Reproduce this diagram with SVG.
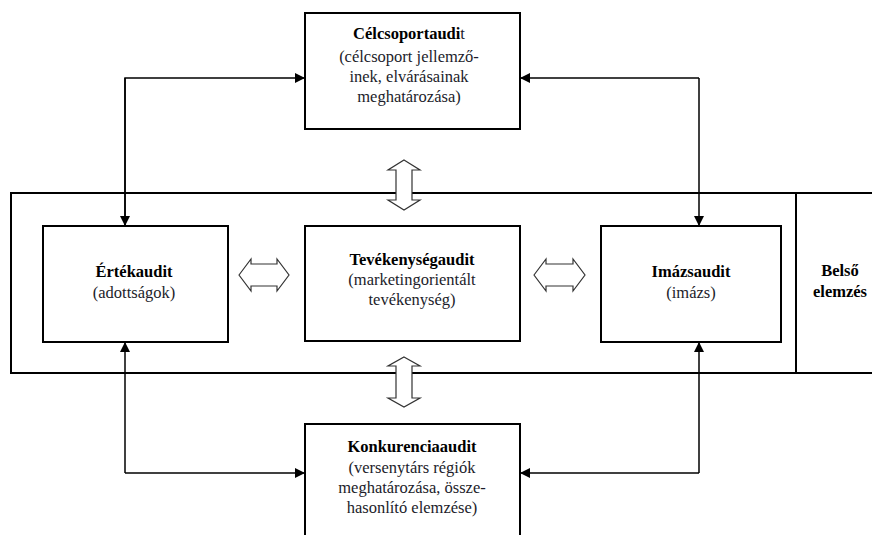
<svg xmlns="http://www.w3.org/2000/svg" width="872" height="535" viewBox="0 0 872 535">
<style>
.box{fill:#fff;stroke:#000;stroke-width:2}
.frame{fill:none;stroke:#000;stroke-width:2}
.conn{fill:none;stroke:#000;stroke-width:1.5}
.dbl{fill:#fff;stroke:#333;stroke-width:1.2}
text{font-family:"Liberation Serif","Times New Roman","DejaVu Serif",serif;font-size:16.5px;fill:#1c1c2a;text-anchor:middle}
.b{font-weight:bold;fill:#000}
</style>
<defs>
<marker id="ah" viewBox="0 0 10 10" refX="10" refY="5" markerWidth="10" markerHeight="10" markerUnits="userSpaceOnUse" orient="auto">
<path d="M0,0 L10,5 L0,10 Z" fill="#000"/>
</marker>
</defs>
<rect width="872" height="535" fill="#fff"/>
<g id="frame">
<rect class="frame" x="11" y="193" width="870" height="180"/>
<line class="frame" x1="796" y1="193" x2="796" y2="373"/>
</g>
<g id="connectors">
<path class="conn" d="M125,226 L125,78 L305,78" marker-end="url(#ah)"/>
<path class="conn" d="M125,78 L125,226" marker-end="url(#ah)"/>
<path class="conn" d="M699,78 L520,78" marker-end="url(#ah)"/>
<path class="conn" d="M699,78 L699,226" marker-end="url(#ah)"/>
<path class="conn" d="M125,473 L125,342" marker-end="url(#ah)"/>
<path class="conn" d="M125,473 L305,473" marker-end="url(#ah)"/>
<path class="conn" d="M699,473 L520,473" marker-end="url(#ah)"/>
<path class="conn" d="M699,473 L699,342" marker-end="url(#ah)"/>
<path class="dbl" d="M404,160 L420,170 L412,170 L412,200 L420,200 L404,210 L388,200 L396,200 L396,170 L388,170 Z"/>
<path class="dbl" d="M404,357 L420,366 L412,366 L412,398 L420,398 L404,407 L388,398 L396,398 L396,366 L388,366 Z"/>
<path class="dbl" d="M239,275 L251,259 L251,264 L277,264 L277,259 L289,275 L277,291 L277,286 L251,286 L251,291 Z"/>
<path class="dbl" d="M534,275 L546,259 L546,264 L573,264 L573,259 L585,275 L573,291 L573,286 L546,286 L546,291 Z"/>
</g>
<g id="celcsoport">
<rect class="box" x="305" y="13" width="215" height="116"/>
<text x="409" y="39"><tspan class="b">Célcsoportaudi</tspan>t</text>
<text x="409" y="62">(célcsoport jellemző-</text>
<text x="409" y="82">inek, elvárásainak</text>
<text x="409" y="102">meghatározása)</text>
</g>
<g id="ertekaudit">
<rect class="box" x="43" y="226" width="185" height="116"/>
<text class="b" x="134" y="277">Értékaudit</text>
<text x="134" y="298">(adottságok)</text>
</g>
<g id="tevekenyseg">
<rect class="box" x="305" y="226" width="215" height="115"/>
<text class="b" x="412" y="265">Tevékenységaudit</text>
<text x="412" y="285">(marketingorientált</text>
<text x="412" y="305">tevékenység)</text>
</g>
<g id="imazsaudit">
<rect class="box" x="601" y="226" width="180" height="116"/>
<text class="b" x="691" y="277">Imázsaudit</text>
<text x="691" y="298">(imázs)</text>
</g>
<g id="belso">
<text class="b" x="840" y="276">Belső</text>
<text class="b" x="840" y="297">elemzés</text>
</g>
<g id="konkurencia">
<rect class="box" x="305" y="424" width="215" height="120"/>
<text class="b" x="412" y="452">Konkurenciaaudit</text>
<text x="412" y="473">(versenytárs régiók</text>
<text x="412" y="493">meghatározása, össze-</text>
<text x="412" y="513">hasonlító elemzése)</text>
</g>
</svg>
